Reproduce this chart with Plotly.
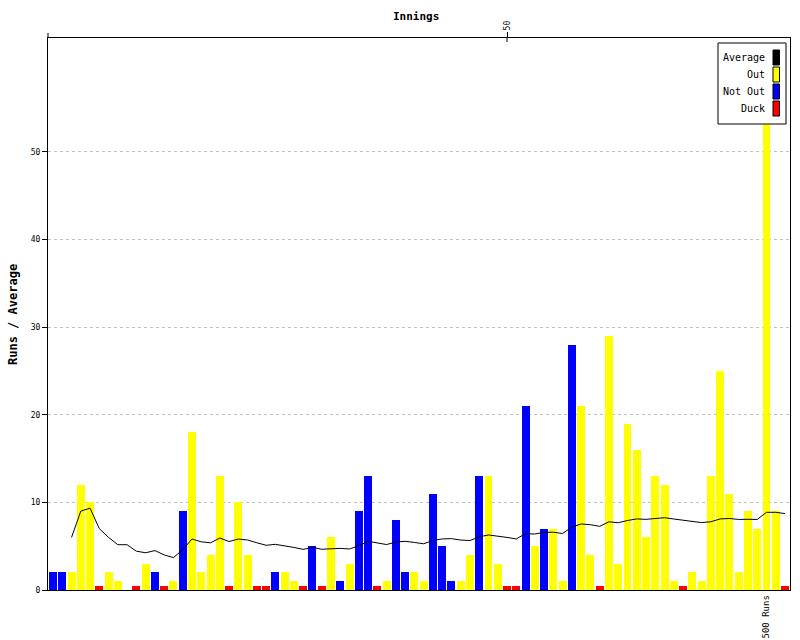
import plotly.graph_objects as go

# ---- data ----
innings = list(range(1, 81))
runs = [2, 2, 2, 12, 10, 0, 2, 1, 0, 0,
        3, 2, 0, 1, 9, 18, 2, 4, 13, 0,
        10, 4, 0, 0, 2, 2, 1, 0, 5, 0,
        6, 1, 3, 9, 13, 0, 1, 8, 2, 2,
        1, 11, 5, 1, 1, 4, 13, 13, 3, 0,
        0, 21, 5, 7, 7, 1, 28, 21, 4, 0,
        29, 3, 19, 16, 6, 13, 12, 1, 0, 2,
        1, 13, 25, 11, 2, 9, 7, 56, 9, 0]
not_out_innings = [1, 2, 9, 12, 15, 25, 29, 32, 34, 35, 38, 39,
                   42, 43, 44, 47, 52, 54, 57]
y_ticks = [0, 10, 20, 30, 40, 50]
x_ticks = [50]
milestone_innings = 78
milestone_label = "500 Runs"

# ---- derived series ----
out_x, out_y, no_x, no_y, duck_x, duck_y = [], [], [], [], [], []
avg = []
tot, outs = 0, 0
DUCK_H = 0.45  # visual height of a duck marker
for i, r in zip(innings, runs):
    tot += r
    if i in not_out_innings:
        no_x.append(i); no_y.append(r)
    else:
        outs += 1
        if r == 0:
            duck_x.append(i); duck_y.append(DUCK_H)
        else:
            out_x.append(i); out_y.append(r)
    avg.append(tot / outs if outs > 0 else None)

# ---- layout geometry (pixels) ----
W, H = 800, 640
L, R, T, B = 48, 10, 38, 50
pw, ph = W - L - R, H - T - B
def px(x):
    return (x - L) / pw
def py(y):
    return (H - B - y) / ph

FONT = "DejaVu Sans Mono"
BW = 0.86

fig = go.Figure()
fig.add_trace(go.Bar(x=out_x, y=out_y, marker=dict(color="#ffff00", line=dict(width=0)), width=BW, name="Out"))
fig.add_trace(go.Bar(x=no_x, y=no_y, marker=dict(color="#0000ff", line=dict(width=0)), width=BW, name="Not Out"))
fig.add_trace(go.Bar(x=duck_x, y=duck_y, marker=dict(color="#ff0000", line=dict(width=0)), width=BW, name="Duck"))
fig.add_trace(go.Scatter(x=innings, y=avg, mode="lines", line=dict(color="black", width=1), name="Average"))

shapes = []
annotations = []

# legend box (custom, text left of swatch)
shapes.append(dict(type="rect", xref="paper", yref="paper",
                   x0=px(718), x1=px(786), y0=py(124), y1=py(43),
                   fillcolor="white", line=dict(color="black", width=1), layer="above"))
leg = [("Average", "#000000", 50), ("Out", "#ffff00", 67), ("Not Out", "#0000ff", 84), ("Duck", "#ff0000", 101)]
for name, col, ytop in leg:
    shapes.append(dict(type="rect", xref="paper", yref="paper",
                       x0=px(773), x1=px(779.5), y0=py(ytop + 15), y1=py(ytop),
                       fillcolor=col, line=dict(color="black", width=1), layer="above"))
    annotations.append(dict(xref="paper", yref="paper", x=px(767), y=py(ytop + 7.5),
                            text=name, showarrow=False, xanchor="right", yanchor="middle",
                            font=dict(family=FONT, size=10, color="black")))

# inside part of the top "50" tick
shapes.append(dict(type="line", xref="x", yref="paper", x0=50, x1=50,
                   y0=1, y1=py(42), line=dict(color="black", width=1)))
# left axis extension above the top
shapes.append(dict(type="line", xref="paper", yref="paper", x0=0, x1=0,
                   y0=1, y1=py(33), line=dict(color="black", width=1)))

annotations.append(dict(xref="paper", yref="paper", x=px(416), y=py(17), text="<b>Innings</b>",
                        showarrow=False, xanchor="center", yanchor="middle",
                        font=dict(family=FONT, size=11, color="black")))
annotations.append(dict(xref="paper", yref="paper", x=px(13), y=py(315), text="<b>Runs / Average</b>",
                        textangle=-90, showarrow=False, xanchor="center", yanchor="middle",
                        font=dict(family=FONT, size=12, color="black")))
annotations.append(dict(xref="x", yref="paper", x=milestone_innings, y=py(617), text=milestone_label,
                        textangle=-90, showarrow=False, xanchor="center", yanchor="middle",
                        font=dict(family=FONT, size=9, color="black")))

fig.update_layout(
    width=W, height=H,
    margin=dict(l=L, r=R, t=T, b=B, pad=0),
    paper_bgcolor="white", plot_bgcolor="white",
    barmode="overlay", bargap=0,
    showlegend=False,
    shapes=shapes, annotations=annotations,
    xaxis=dict(range=[1 - 5 / 9.266, 1 + 737 / 9.266], side="top",
               tickvals=x_ticks, ticktext=[str(v) for v in x_ticks], tickangle=-90,
               ticks="outside", ticklen=5, tickcolor="black",
               tickfont=dict(family=FONT, size=8, color="black"),
               showline=True, linecolor="black", linewidth=1, mirror=True,
               showgrid=False, zeroline=False, fixedrange=True),
    yaxis=dict(range=[0, 63.0], tickvals=y_ticks, ticktext=[str(v) for v in y_ticks],
               ticks="outside", ticklen=5, tickcolor="black",
               tickfont=dict(family=FONT, size=8, color="black"),
               showline=True, linecolor="black", linewidth=1, mirror=True,
               showgrid=True, gridcolor="#c0c0c0", griddash="dot", gridwidth=1,
               zeroline=False, fixedrange=True),
)

fig.write_html("out.html", config={"displayModeBar": False},
               post_script="document.body.style.margin='0';document.body.style.overflow='hidden';")
